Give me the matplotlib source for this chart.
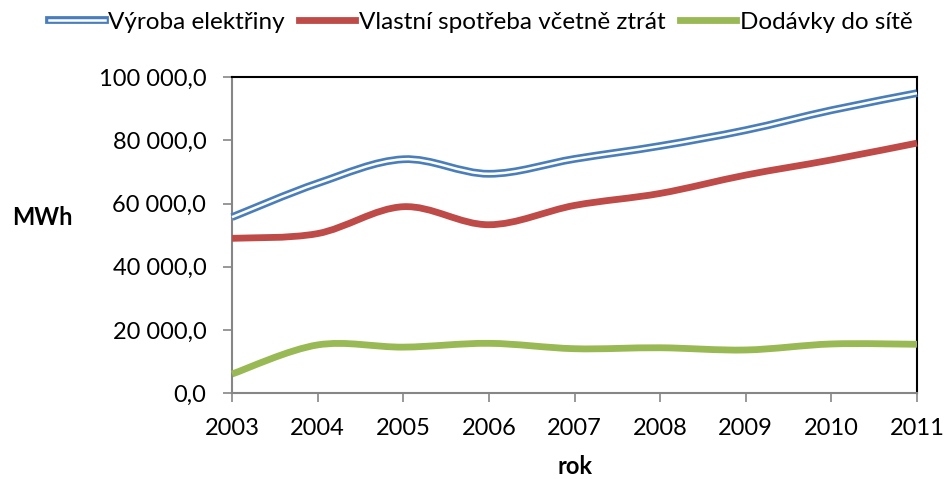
import numpy as np
import matplotlib
matplotlib.use("Agg")
import matplotlib.pyplot as plt
from matplotlib.path import Path
from matplotlib.patches import PathPatch
from matplotlib.lines import Line2D
from matplotlib.ticker import FuncFormatter
import matplotlib.patheffects as pe

plt.rcParams['font.family'] = ['Lato', 'DejaVu Sans']

years    = [2003, 2004, 2005, 2006, 2007, 2008, 2009, 2010, 2011]
vyroba   = [55700, 66400, 74000, 69400, 74100, 78200, 83200, 89500, 94900]
spotreba = [49000, 50500, 59000, 53300, 59400, 63200, 69000, 73800, 79100]
dodavky  = [6100, 15300, 14600, 15800, 14100, 14400, 13700, 15600, 15500]
labels   = ["Výroba elektřiny", "Vlastní spotřeba včetně ztrát", "Dodávky do sítě"]

BLUE, RED, GREEN = "#4A7EBB", "#BE4B48", "#98B954"
AXIS_GRAY = "#868686"


def smooth_path(x, y):
    # Excel-like smoothed line: cubic bezier through every data point
    x = np.asarray(x, float)
    y = np.asarray(y, float)
    n = len(x)
    verts = [(x[0], y[0])]
    codes = [Path.MOVETO]
    for i in range(n - 1):
        a, b = max(i - 1, 0), min(i + 2, n - 1)
        c1 = (x[i] + (x[i + 1] - x[a]) / 6, y[i] + (y[i + 1] - y[a]) / 6)
        c2 = (x[i + 1] - (x[b] - x[i]) / 6, y[i + 1] - (y[b] - y[i]) / 6)
        verts += [c1, c2, (x[i + 1], y[i + 1])]
        codes += [Path.CURVE4] * 3
    return Path(verts, codes)


fig = plt.figure(figsize=(9.44, 4.79), dpi=100)
ax = fig.add_axes([0.2458, 0.1789, 0.7256, 0.6603])

# blue double line = thick blue + thin white core
ax.add_patch(PathPatch(smooth_path(years, vyroba), fill=False, edgecolor=BLUE,
                       linewidth=5.6, capstyle='butt', clip_on=False, zorder=3))
ax.add_patch(PathPatch(smooth_path(years, vyroba), fill=False, edgecolor="white",
                       linewidth=1.8, capstyle='butt', clip_on=False, zorder=4))
ax.add_patch(PathPatch(smooth_path(years, spotreba), fill=False, edgecolor=RED,
                       linewidth=4.9, capstyle='butt', clip_on=False, zorder=3))
ax.add_patch(PathPatch(smooth_path(years, dodavky), fill=False, edgecolor=GREEN,
                       linewidth=4.9, capstyle='butt', clip_on=False, zorder=3))

ax.set_xlim(years[0], years[-1])
ax.set_ylim(0, 100000)
ax.set_xticks(years)
ax.set_yticks(np.arange(0, 100001, 20000))
ax.yaxis.set_major_formatter(FuncFormatter(
    lambda v, _: f"{v:,.1f}".replace(",", " ").replace(".", ",")))

for side in ["left", "bottom"]:
    ax.spines[side].set_color(AXIS_GRAY)
    ax.spines[side].set_linewidth(1.5)
for side in ["top", "right"]:
    ax.spines[side].set_color("black")
    ax.spines[side].set_linewidth(1.5)

ax.tick_params(axis='both', direction='out', length=6.5, width=1.2,
               color=AXIS_GRAY, labelsize=17, labelcolor="black")
ax.tick_params(axis='x', pad=11)
ax.tick_params(axis='y', pad=12)

ax.set_ylabel("MWh", fontsize=17, fontweight='bold', rotation=0,
              va='center', ha='center')
ax.yaxis.set_label_coords(-0.277, 0.557)
ax.set_xlabel("rok", fontsize=17, fontweight='bold', va='center')
ax.xaxis.set_label_coords(0.5, -0.23)

handles = [
    Line2D([], [], color="white", linewidth=1.8,
           path_effects=[pe.Stroke(linewidth=5.6, foreground=BLUE), pe.Normal()]),
    Line2D([], [], color=RED, linewidth=4.9),
    Line2D([], [], color=GREEN, linewidth=4.9),
]
fig.legend(handles, labels, loc='center', bbox_to_anchor=(0.509, 1 - 22 / 479),
           ncol=3, frameon=False, fontsize=17.5, handlelength=2.3,
           handletextpad=0.15, columnspacing=0.6)

fig.savefig("out.png", dpi=100)
